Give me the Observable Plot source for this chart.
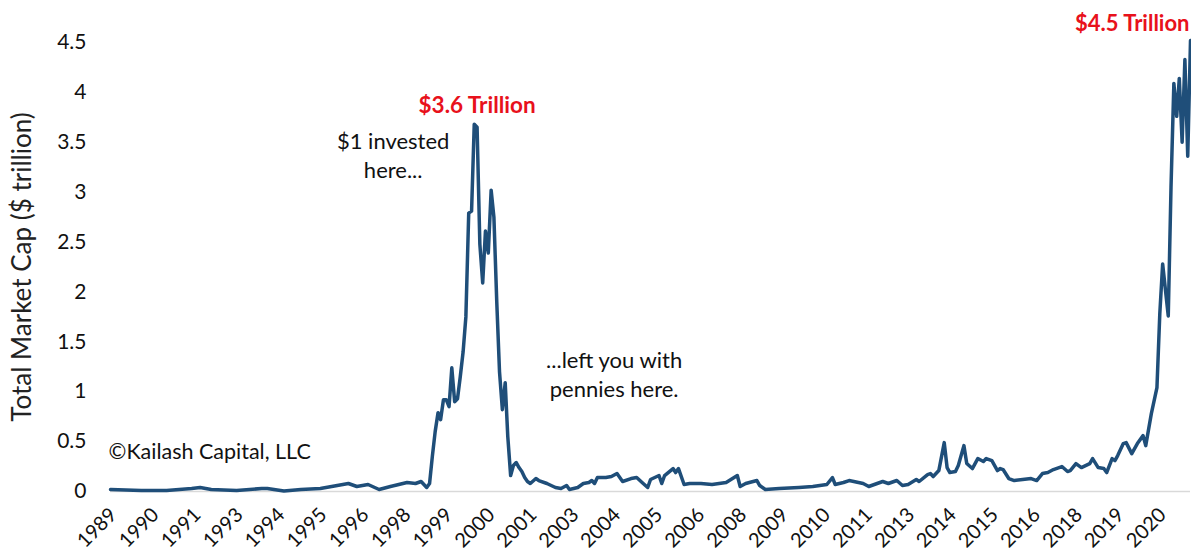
<!DOCTYPE html>
<html><head><meta charset="utf-8">
<script src="https://cdn.jsdelivr.net/npm/d3@7"></script>
<script src="https://cdn.jsdelivr.net/npm/@observablehq/plot@0.6"></script>
<style>body{margin:0;background:#fff;} svg{font-family:Lato,"Open Sans",sans-serif;}</style>
</head><body><div id="chart"></div>
<script>
// Monthly points (total market cap, $ trillion)
const months = [
"1989-05","1990-04","1991-01","1991-10","1992-01","1992-05","1993-02","1993-11","1994-01","1994-07",
"1995-01","1995-08","1996-02","1996-06","1996-09","1997-01","1997-05","1997-09","1998-03","1998-06",
"1998-08","1998-10","1998-11","1998-12","1999-01","1999-02","1999-03","1999-04","1999-05","1999-06",
"1999-07","1999-08","1999-09","1999-10","1999-11","1999-12","2000-01","2000-02","2000-03","2000-04",
"2000-05","2000-06","2000-07","2000-08","2000-09","2000-10","2000-11","2000-12","2001-01","2001-02",
"2001-03","2001-04","2001-05","2001-06","2001-07","2001-08","2001-09","2001-10","2001-11","2002-01",
"2002-02","2002-05","2002-08","2002-10","2002-12","2003-01","2003-04","2003-06","2003-08","2003-09",
"2003-10","2003-11","2004-02","2004-04","2004-06","2004-08","2004-11","2005-01","2005-03","2005-05",
"2005-06","2005-09","2005-10","2005-11","2006-02","2006-03","2006-04","2006-06","2006-08","2006-12",
"2007-04","2007-09","2008-01","2008-02","2008-04","2008-08","2008-09","2008-11","2009-04","2009-11",
"2010-04","2010-09","2010-11","2010-12","2011-03","2011-05","2011-10","2011-12","2012-05","2012-07",
"2012-10","2012-12","2013-02","2013-05","2013-06","2013-09","2013-10","2013-11","2014-01","2014-03",
"2014-04","2014-05","2014-07","2014-08","2014-10","2014-11","2015-01","2015-03","2015-05","2015-06",
"2015-08","2015-10","2015-11","2015-12","2016-02","2016-04","2016-07","2016-10","2016-12","2017-02",
"2017-04","2017-06","2017-09","2017-11","2017-12","2018-02","2018-04","2018-07","2018-08","2018-10",
"2018-12","2019-01","2019-03","2019-04","2019-05","2019-07","2019-08","2019-10","2019-12","2020-02",
"2020-03","2020-05","2020-07","2020-08","2020-09","2020-11","2020-12","2021-01","2021-02","2021-03",
"2021-04","2021-05","2021-06","2021-07"
];
const values = [
0.02,0.01,0.01,0.03,0.04,0.02,0.01,0.03,0.03,0.005,
0.02,0.03,0.06,0.08,0.05,0.07,0.02,0.05,0.09,0.08,
0.10,0.04,0.08,0.35,0.60,0.79,0.72,0.92,0.92,0.85,
1.24,0.90,0.93,1.15,1.40,1.75,2.79,2.81,3.68,3.65,
2.48,2.09,2.61,2.39,3.02,2.75,1.90,1.20,0.82,1.09,
0.55,0.16,0.26,0.29,0.24,0.20,0.14,0.10,0.08,0.13,
0.11,0.08,0.04,0.03,0.06,0.02,0.04,0.08,0.09,0.11,
0.08,0.14,0.14,0.15,0.18,0.10,0.13,0.14,0.09,0.04,
0.12,0.16,0.08,0.16,0.23,0.19,0.23,0.07,0.08,0.08,
0.07,0.09,0.16,0.05,0.08,0.11,0.06,0.02,0.03,0.04,
0.05,0.07,0.14,0.07,0.09,0.11,0.08,0.05,0.10,0.08,
0.11,0.06,0.07,0.12,0.10,0.17,0.18,0.15,0.21,0.49,
0.24,0.19,0.20,0.26,0.46,0.28,0.23,0.33,0.30,0.33,
0.31,0.21,0.23,0.22,0.13,0.11,0.12,0.13,0.11,0.18,
0.19,0.22,0.25,0.20,0.21,0.28,0.24,0.28,0.33,0.24,
0.23,0.19,0.33,0.31,0.36,0.48,0.49,0.38,0.48,0.56,
0.46,0.78,1.04,1.78,2.28,1.76,3.05,4.09,3.76,4.14,
3.50,4.33,3.36,4.52
];
const tickMonths = ["1989-05","1990-08","1991-11","1993-02","1994-05","1995-08","1996-11","1998-02","1999-05","2000-08",
"2001-11","2003-02","2004-05","2005-08","2006-11","2008-02","2009-05","2010-08","2011-11","2013-02",
"2014-05","2015-08","2016-11","2018-02","2019-05","2020-08"];
const tickLabels = ["1989","1990","1991","1993","1994","1995","1996","1998","1999","2000",
"2001","2003","2004","2005","2006","2008","2009","2010","2011","2013",
"2014","2015","2016","2018","2019","2020"];
const yTicks = [0,0.5,1,1.5,2,2.5,3,3.5,4,4.5];
const yTickLabels = ["0","0.5","1","1.5","2","2.5","3","3.5","4","4.5"];
const yTitle = "Total Market Cap ($ trillion)";
const noteTexts = ["$1 invested\nhere...", "...left you with\npennies here.", "©Kailash Capital, LLC"];
const noteMonths = ["1997-10", "2004-05", "1989-05"];
const noteValues = [3.38, 1.19, 0.39];
const peakTexts = ["$3.6 Trillion", "$4.5 Trillion"];
const peakMonths = ["2000-04", "2021-07"];
const peakValues = [3.87, 4.69];

const parse = d3.utcParse("%Y-%m");
const data = months.map((m, i) => ({date: parse(m), value: values[i]}));
const tickDates = tickMonths.map(parse);
const tickLabelMap = new Map(tickDates.map((d, i) => [+d, tickLabels[i]]));
const yLabelMap = new Map(yTicks.map((v, i) => [v, yTickLabels[i]]));
const notes = noteTexts.map((t, i) => ({text: t, date: parse(noteMonths[i]), value: noteValues[i]}));
const peaks = peakTexts.map((t, i) => ({text: t, date: parse(peakMonths[i]), value: peakValues[i]}));

const chart = Plot.plot({
  width: 1191,
  height: 556,
  marginLeft: 110,
  marginRight: 1,
  marginTop: 42,
  marginBottom: 65,
  style: {fontFamily: "Lato, 'Open Sans', sans-serif", background: "#fff"},
  x: {type: "utc", domain: [parse("1989-05"), parse("2021-07")]},
  y: {domain: [0, 4.5]},
  marks: [
    Plot.ruleY([0], {stroke: "#d9d9d9", strokeWidth: 1.5}),
    Plot.line(data, {x: "date", y: "value", stroke: "#1f4e79", strokeWidth: 3.5, strokeLinejoin: "round"}),
    Plot.axisY({ticks: yTicks, tickFormat: v => yLabelMap.get(v), tickSize: 0, tickPadding: 24, fontSize: 21, fill: "#111",
      label: null}),
    Plot.text([yTitle], {frameAnchor: "left", dx: -88, rotate: -90, textAnchor: "middle", fontSize: 26, fill: "#222"}),
    Plot.axisX({ticks: tickDates, tickFormat: d => tickLabelMap.get(+d), tickRotate: -45, tickSize: 0, tickPadding: 20,
      dx: 3, fontSize: 20, fill: "#111", label: null}),
    Plot.text(notes.slice(0, 2), {x: "date", y: "value", text: "text", fontSize: 22, fill: "#111", lineHeight: 1.32, textAnchor: "middle"}),
    Plot.text(notes.slice(2), {x: "date", y: "value", text: "text", fontSize: 21.5, fill: "#111", textAnchor: "start", dx: -2}),
    Plot.text(peaks.slice(0, 1), {x: "date", y: "value", text: "text", fontSize: 22.5, fontWeight: "bold", fill: "#e8111b", textAnchor: "middle"}),
    Plot.text(peaks.slice(1), {x: "date", y: "value", text: "text", fontSize: 22, fontWeight: "bold", fill: "#e8111b", textAnchor: "end", dx: -1})
  ]
});
document.getElementById("chart").appendChild(chart);
</script>
</body></html>
